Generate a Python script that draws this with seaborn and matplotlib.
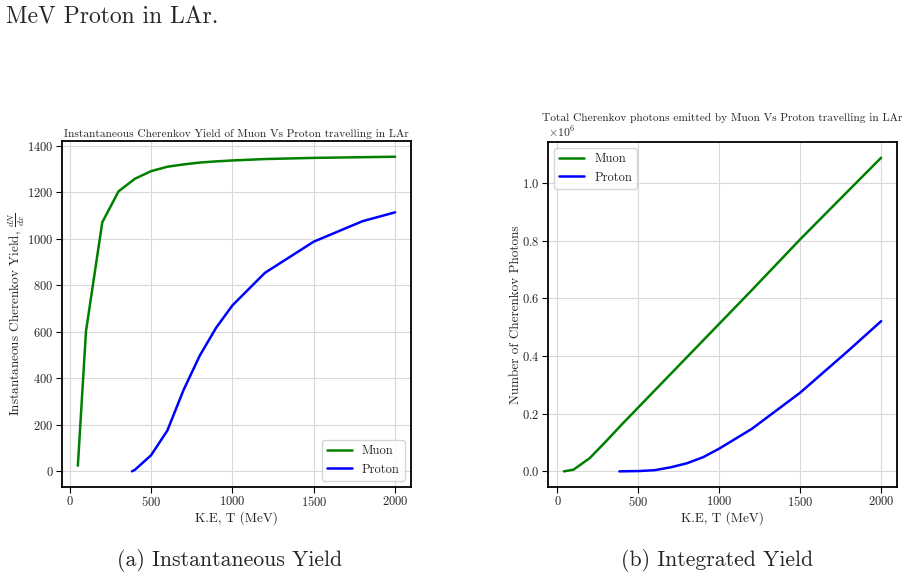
import numpy as np
import pandas as pd
import matplotlib
matplotlib.use("Agg")
import matplotlib.pyplot as plt
import seaborn as sns

# instantaneous yield dN/dx
muon_T = [50, 100, 200, 300, 400, 500, 600, 700, 800, 900, 1000, 1200, 1500, 2000]
muon_dndx = [24, 602, 1070, 1203, 1257, 1290, 1309, 1319, 1327, 1332, 1336, 1342, 1347, 1352]

proton_T = [383, 400, 500, 600, 700, 800, 900, 1000, 1200, 1500, 1800, 2000]
proton_dndx = [0, 6, 69, 175, 350, 498, 617, 713, 853, 987, 1075, 1113]

# integrated photons
muon_T2 = [40, 100, 200, 300, 400, 500, 600, 700, 800, 900, 1000, 1200, 1500, 1800, 2000]
muon_tot = [0, 6e3, 46e3, 104e3, 164e3, 222e3, 280e3, 338e3, 396e3, 454e3, 512e3,
            628e3, 805e3, 975e3, 1088e3]

proton_T2 = [383, 500, 600, 700, 800, 900, 1000, 1200, 1500, 1800, 2000]
proton_tot = [0, 1e3, 4e3, 14e3, 28e3, 49e3, 79e3, 147e3, 273e3, 420e3, 521e3]

sns.set_style("whitegrid", {
    "axes.edgecolor": "black",
    "xtick.bottom": True,
    "ytick.left": True,
    "grid.color": "#d9d9d9",
})
plt.rcParams["font.family"] = "serif"
plt.rcParams["font.serif"] = ["cmr10", "DejaVu Serif"]
plt.rcParams["mathtext.fontset"] = "cm"
plt.rcParams["axes.formatter.use_mathtext"] = True
plt.rcParams["axes.unicode_minus"] = False

fig = plt.figure(figsize=(9.09, 5.80), dpi=100)
ax1 = fig.add_axes([0.0682, 0.1603, 0.3839, 0.5966])
ax2 = fig.add_axes([0.6029, 0.1603, 0.3839, 0.5948])

sns.lineplot(x=muon_T, y=muon_dndx, color="green", lw=1.8, label="Muon", ax=ax1)
sns.lineplot(x=proton_T, y=proton_dndx, color="blue", lw=1.8, label="Proton", ax=ax1)
ax1.set_title("Instantaneous Cherenkov Yield of Muon Vs Proton travelling in LAr",
              fontsize=8.2, pad=3)
ax1.set_xlabel("K.E, T (MeV)", fontsize=9.5, labelpad=1)
ax1.set_ylabel(r"Instantaneous Cherenkov Yield, $\frac{dN}{dx}$", fontsize=9.5, labelpad=0)
ax1.set_xticks([0, 500, 1000, 1500, 2000])
ax1.legend(loc="lower right", fontsize=9, frameon=True)

sns.lineplot(x=muon_T2, y=muon_tot, color="green", lw=1.8, label="Muon", ax=ax2)
sns.lineplot(x=proton_T2, y=proton_tot, color="blue", lw=1.8, label="Proton", ax=ax2)
ax2.set_title("Total Cherenkov photons emitted by Muon Vs Proton travelling in LAr",
              fontsize=8.2, pad=0, y=1.062)
ax2.set_xlabel("K.E, T (MeV)", fontsize=9.5, labelpad=1)
ax2.set_ylabel("Number of Cherenkov Photons", fontsize=9.5, labelpad=0)
ax2.set_xticks([0, 500, 1000, 1500, 2000])
ax2.ticklabel_format(axis="y", style="sci", scilimits=(0, 0))
ax2.yaxis.get_offset_text().set_fontsize(8.5)
ax2.legend(loc="upper left", fontsize=9, frameon=True)

for ax in (ax1, ax2):
    ax.tick_params(labelsize=9, length=4, width=0.8, color="black", pad=2)
    for s in ax.spines.values():
        s.set_linewidth(1.3)

fig.text(6 / 909, 1 - 23 / 580, "MeV Proton in LAr.", fontsize=17, va="baseline", ha="left")
fig.text(230 / 909, 1 - 561 / 580, "(a) Instantaneous Yield", fontsize=15.7, ha="center", va="center")
fig.text(717 / 909, 1 - 561 / 580, "(b) Integrated Yield", fontsize=15.7, ha="center", va="center")

fig.savefig("out.png", dpi=100)
